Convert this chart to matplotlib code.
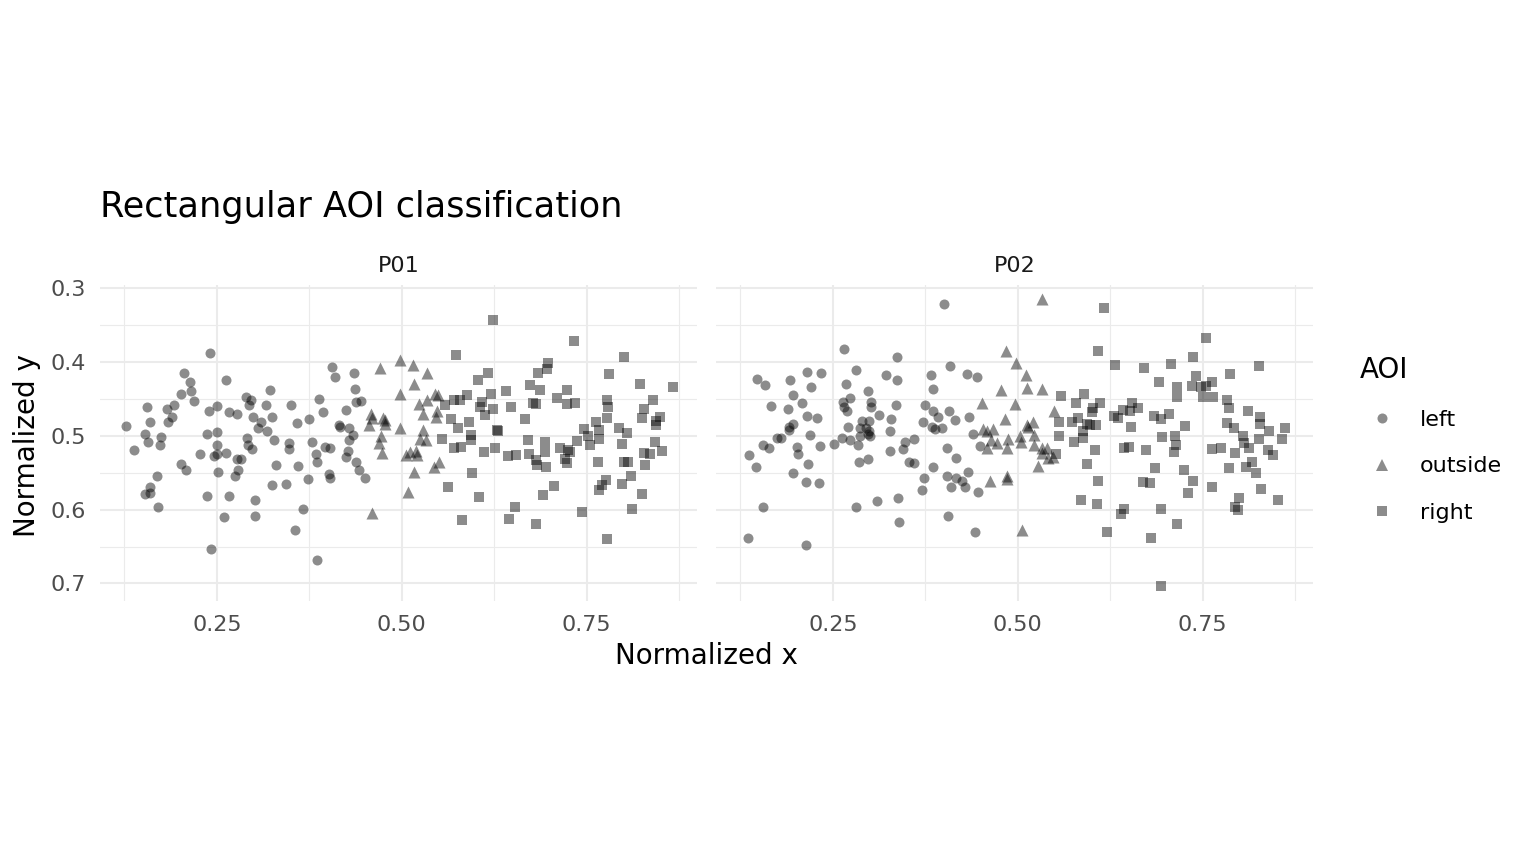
import matplotlib
matplotlib.use("Agg")
import matplotlib.pyplot as plt
from matplotlib.ticker import FixedLocator, FixedFormatter
from matplotlib.lines import Line2D

# ---------------- data (normalized gaze positions per participant / AOI) ----------------
p01_left_x = [0.241, 0.205, 0.214, 0.262, 0.202, 0.215, 0.219, 0.156, 0.182, 0.192, 0.189, 0.184,
              0.159, 0.127, 0.153, 0.157, 0.175, 0.173, 0.138, 0.240, 0.250, 0.267, 0.277, 0.290,
              0.296, 0.294, 0.322, 0.316, 0.324, 0.350, 0.358, 0.299, 0.310, 0.306, 0.318, 0.237,
              0.250, 0.291, 0.292, 0.298, 0.327, 0.347, 0.347, 0.250, 0.250, 0.246, 0.227, 0.262,
              0.277, 0.283, 0.202, 0.208, 0.251, 0.278, 0.274, 0.330, 0.360, 0.169, 0.160, 0.153,
              0.159, 0.171, 0.237, 0.267, 0.302, 0.325, 0.344, 0.259, 0.302, 0.356, 0.242, 0.366,
              0.406, 0.410, 0.435, 0.437, 0.388, 0.438, 0.445, 0.425, 0.393, 0.375, 0.415, 0.416,
              0.428, 0.434, 0.429, 0.378, 0.396, 0.403, 0.384, 0.427, 0.424, 0.385, 0.438, 0.442,
              0.450, 0.401, 0.403, 0.373, 0.386]
p01_left_y = [0.388, 0.415, 0.427, 0.425, 0.443, 0.440, 0.453, 0.461, 0.464, 0.458, 0.475, 0.481,
              0.482, 0.487, 0.497, 0.508, 0.502, 0.512, 0.519, 0.466, 0.460, 0.468, 0.470, 0.447,
              0.451, 0.458, 0.438, 0.458, 0.474, 0.459, 0.483, 0.475, 0.481, 0.489, 0.493, 0.497,
              0.495, 0.503, 0.512, 0.518, 0.506, 0.510, 0.518, 0.512, 0.525, 0.528, 0.525, 0.524,
              0.532, 0.532, 0.538, 0.547, 0.549, 0.547, 0.554, 0.539, 0.541, 0.555, 0.570, 0.579,
              0.578, 0.597, 0.582, 0.582, 0.587, 0.566, 0.565, 0.610, 0.609, 0.627, 0.653, 0.599,
              0.407, 0.421, 0.415, 0.437, 0.450, 0.454, 0.453, 0.465, 0.468, 0.477, 0.485, 0.488,
              0.489, 0.499, 0.506, 0.509, 0.515, 0.516, 0.525, 0.520, 0.529, 0.536, 0.536, 0.546,
              0.557, 0.552, 0.557, 0.558, 0.668]

p01_out_x = [0.497, 0.515, 0.471, 0.534, 0.517, 0.497, 0.545, 0.549, 0.534, 0.523, 0.458, 0.547,
             0.529, 0.546, 0.474, 0.477, 0.460, 0.455, 0.477, 0.497, 0.529, 0.472, 0.524, 0.532,
             0.469, 0.511, 0.519, 0.506, 0.520, 0.473, 0.550, 0.544, 0.517, 0.509, 0.460]
p01_out_y = [0.397, 0.404, 0.408, 0.415, 0.430, 0.443, 0.443, 0.445, 0.452, 0.457, 0.470, 0.467,
             0.470, 0.474, 0.476, 0.479, 0.476, 0.485, 0.484, 0.489, 0.492, 0.500, 0.504, 0.506,
             0.510, 0.522, 0.520, 0.526, 0.526, 0.524, 0.535, 0.542, 0.549, 0.576, 0.605]

p01_right_x = [0.573, 0.617, 0.603, 0.620, 0.588, 0.578, 0.570, 0.558, 0.609, 0.605, 0.623, 0.612,
               0.566, 0.591, 0.576, 0.593, 0.593, 0.628, 0.554, 0.570, 0.580, 0.611, 0.626, 0.595,
               0.563, 0.604, 0.582, 0.623, 0.733, 0.800, 0.698, 0.696, 0.684, 0.780, 0.822, 0.866,
               0.673, 0.687, 0.723, 0.641, 0.710, 0.723, 0.734, 0.681, 0.677, 0.647, 0.777, 0.779,
               0.839, 0.828, 0.777, 0.825, 0.849, 0.844, 0.844, 0.666, 0.763, 0.746, 0.767, 0.793,
               0.805, 0.630, 0.752, 0.766, 0.755, 0.737, 0.671, 0.694, 0.693, 0.798, 0.842, 0.852,
               0.828, 0.836, 0.829, 0.644, 0.654, 0.672, 0.681, 0.683, 0.695, 0.714, 0.725, 0.727,
               0.720, 0.723, 0.765, 0.800, 0.806, 0.810, 0.798, 0.776, 0.770, 0.766, 0.706, 0.691,
               0.825, 0.653, 0.645, 0.681, 0.744, 0.811, 0.777]
p01_right_y = [0.391, 0.415, 0.424, 0.443, 0.445, 0.451, 0.452, 0.458, 0.454, 0.461, 0.464, 0.472,
               0.478, 0.481, 0.489, 0.499, 0.506, 0.492, 0.504, 0.516, 0.515, 0.522, 0.516, 0.551,
               0.569, 0.583, 0.614, 0.343, 0.372, 0.394, 0.401, 0.409, 0.415, 0.417, 0.430, 0.434,
               0.431, 0.438, 0.438, 0.440, 0.449, 0.457, 0.455, 0.457, 0.456, 0.461, 0.452, 0.461,
               0.452, 0.464, 0.476, 0.476, 0.474, 0.480, 0.485, 0.477, 0.482, 0.491, 0.492, 0.490,
               0.496, 0.493, 0.500, 0.505, 0.512, 0.507, 0.506, 0.509, 0.522, 0.511, 0.509, 0.520,
               0.524, 0.525, 0.539, 0.527, 0.526, 0.525, 0.533, 0.540, 0.542, 0.516, 0.519, 0.522,
               0.532, 0.537, 0.535, 0.535, 0.535, 0.554, 0.565, 0.560, 0.567, 0.573, 0.568, 0.580,
               0.579, 0.597, 0.613, 0.619, 0.603, 0.599, 0.640]

p02_left_x = [0.265, 0.337, 0.148, 0.158, 0.192, 0.215, 0.234, 0.220, 0.196, 0.208, 0.166, 0.190,
              0.215, 0.228, 0.196, 0.191, 0.191, 0.180, 0.174, 0.219, 0.155, 0.163, 0.136, 0.146,
              0.201, 0.203, 0.232, 0.217, 0.196, 0.214, 0.231, 0.155, 0.135, 0.214, 0.281, 0.268,
              0.322, 0.337, 0.298, 0.273, 0.263, 0.265, 0.269, 0.302, 0.302, 0.312, 0.335, 0.329,
              0.271, 0.289, 0.299, 0.286, 0.295, 0.299, 0.297, 0.287, 0.300, 0.327, 0.262, 0.273,
              0.251, 0.284, 0.347, 0.345, 0.359, 0.327, 0.285, 0.298, 0.353, 0.359, 0.310, 0.338,
              0.281, 0.340, 0.400, 0.408, 0.382, 0.431, 0.445, 0.385, 0.375, 0.386, 0.392, 0.407,
              0.415, 0.434, 0.372, 0.384, 0.388, 0.397, 0.440, 0.404, 0.416, 0.449, 0.385, 0.373,
              0.404, 0.417, 0.425, 0.433, 0.371, 0.409, 0.429, 0.446, 0.405, 0.442]
p02_left_y = [0.383, 0.393, 0.423, 0.431, 0.425, 0.414, 0.415, 0.434, 0.445, 0.455, 0.460, 0.464,
              0.473, 0.476, 0.484, 0.488, 0.492, 0.503, 0.503, 0.499, 0.513, 0.517, 0.526, 0.542,
              0.515, 0.525, 0.514, 0.538, 0.550, 0.563, 0.564, 0.596, 0.639, 0.648, 0.411, 0.430,
              0.418, 0.425, 0.440, 0.449, 0.454, 0.461, 0.467, 0.454, 0.461, 0.472, 0.458, 0.478,
              0.488, 0.480, 0.480, 0.490, 0.490, 0.494, 0.498, 0.500, 0.501, 0.494, 0.503, 0.506,
              0.511, 0.512, 0.508, 0.518, 0.504, 0.521, 0.536, 0.532, 0.536, 0.537, 0.588, 0.584,
              0.597, 0.617, 0.322, 0.406, 0.418, 0.417, 0.420, 0.437, 0.458, 0.467, 0.475, 0.466,
              0.479, 0.474, 0.481, 0.488, 0.491, 0.489, 0.498, 0.517, 0.530, 0.514, 0.542, 0.557,
              0.554, 0.557, 0.561, 0.549, 0.573, 0.570, 0.569, 0.576, 0.609, 0.630]

p02_out_x = [0.533, 0.484, 0.498, 0.511, 0.512, 0.533, 0.477, 0.451, 0.496, 0.549, 0.482, 0.453,
             0.458, 0.467, 0.513, 0.521, 0.514, 0.503, 0.522, 0.487, 0.464, 0.472, 0.458, 0.485,
             0.504, 0.522, 0.533, 0.539, 0.532, 0.541, 0.547, 0.527, 0.463, 0.485, 0.486, 0.506]
p02_out_y = [0.315, 0.385, 0.402, 0.418, 0.435, 0.437, 0.438, 0.455, 0.457, 0.466, 0.478, 0.491,
             0.494, 0.491, 0.485, 0.482, 0.488, 0.501, 0.499, 0.505, 0.506, 0.510, 0.517, 0.516,
             0.509, 0.512, 0.517, 0.517, 0.523, 0.530, 0.529, 0.541, 0.561, 0.555, 0.558, 0.628]

p02_right_x = [0.616, 0.608, 0.558, 0.589, 0.578, 0.601, 0.611, 0.600, 0.555, 0.573, 0.582, 0.593,
               0.605, 0.588, 0.597, 0.555, 0.588, 0.576, 0.604, 0.552, 0.594, 0.609, 0.586, 0.607,
               0.620, 0.755, 0.632, 0.670, 0.707, 0.737, 0.826, 0.787, 0.691, 0.715, 0.715, 0.741,
               0.735, 0.748, 0.755, 0.762, 0.750, 0.764, 0.783, 0.785, 0.811, 0.827, 0.827, 0.840,
               0.861, 0.857, 0.783, 0.792, 0.805, 0.806, 0.813, 0.826, 0.838, 0.845, 0.793, 0.762,
               0.775, 0.816, 0.808, 0.822, 0.785, 0.829, 0.852, 0.799, 0.793, 0.798, 0.762, 0.730,
               0.737, 0.724, 0.686, 0.669, 0.679, 0.726, 0.695, 0.712, 0.714, 0.711, 0.673, 0.643,
               0.650, 0.704, 0.693, 0.684, 0.653, 0.663, 0.654, 0.651, 0.642, 0.636, 0.630, 0.644,
               0.640, 0.693, 0.715, 0.680, 0.693]
p02_right_y = [0.327, 0.385, 0.446, 0.444, 0.456, 0.462, 0.455, 0.468, 0.481, 0.482, 0.476, 0.484,
               0.485, 0.494, 0.485, 0.500, 0.503, 0.509, 0.519, 0.525, 0.538, 0.561, 0.587, 0.593,
               0.630, 0.368, 0.404, 0.408, 0.403, 0.394, 0.405, 0.417, 0.427, 0.434, 0.447, 0.419,
               0.433, 0.434, 0.433, 0.427, 0.447, 0.448, 0.452, 0.463, 0.466, 0.475, 0.484, 0.494,
               0.489, 0.505, 0.483, 0.489, 0.500, 0.510, 0.517, 0.505, 0.519, 0.526, 0.523, 0.518,
               0.517, 0.535, 0.542, 0.551, 0.543, 0.572, 0.587, 0.584, 0.596, 0.601, 0.570, 0.577,
               0.561, 0.546, 0.544, 0.563, 0.564, 0.487, 0.502, 0.501, 0.512, 0.522, 0.519, 0.516,
               0.515, 0.470, 0.478, 0.473, 0.488, 0.462, 0.456, 0.467, 0.465, 0.476, 0.473, 0.599,
               0.606, 0.599, 0.620, 0.639, 0.704]

panels = ["P01", "P02"]
aoi_levels = ["left", "outside", "right"]
x_ticks = [0.25, 0.50, 0.75]
x_tick_labels = ["0.25", "0.50", "0.75"]
y_ticks = [0.3, 0.4, 0.5, 0.6, 0.7]
y_tick_labels = ["0.3", "0.4", "0.5", "0.6", "0.7"]

data = {
    "P01": {"left": (p01_left_x, p01_left_y), "outside": (p01_out_x, p01_out_y),
            "right": (p01_right_x, p01_right_y)},
    "P02": {"left": (p02_left_x, p02_left_y), "outside": (p02_out_x, p02_out_y),
            "right": (p02_right_x, p02_right_y)},
}
shapes = {"left": ("o", 52), "outside": ("^", 75), "right": ("s", 44)}

# ---------------- figure ----------------
W, H = 1536, 864
fig = plt.figure(figsize=(W / 100, H / 100), dpi=100)

grid_col = "#ebebeb"
text_col = "#4d4d4d"

ax_left = [100, 716]
ax_w = 597
ax_top, ax_bot = 284.6, 601

axes = []
for i, p in enumerate(panels):
    ax = fig.add_axes([ax_left[i] / W, 1 - ax_bot / H, ax_w / W, (ax_bot - ax_top) / H])
    axes.append(ax)
    for aoi in aoi_levels:
        xs, ys = data[p][aoi]
        m, s = shapes[aoi]
        ax.scatter(xs, ys, marker=m, s=s, color="black", alpha=0.45, linewidths=0, zorder=3)
    ax.set_xlim(0.092, 0.899)
    ax.set_ylim(0.7237, 0.2954)
    ax.xaxis.set_major_locator(FixedLocator(x_ticks))
    ax.xaxis.set_major_formatter(FixedFormatter(x_tick_labels))
    ax.xaxis.set_minor_locator(FixedLocator([0.125, 0.375, 0.625, 0.875]))
    ax.yaxis.set_major_locator(FixedLocator(y_ticks))
    ax.yaxis.set_minor_locator(FixedLocator([0.35, 0.45, 0.55, 0.65]))
    if i == 0:
        ax.yaxis.set_major_formatter(FixedFormatter(y_tick_labels))
    else:
        ax.set_yticklabels([])
    ax.grid(True, which="major", color=grid_col, linewidth=1.5, zorder=0)
    ax.grid(True, which="minor", color=grid_col, linewidth=0.8, zorder=0)
    ax.set_axisbelow(True)
    ax.tick_params(which="both", length=0, labelsize=16, labelcolor=text_col)
    ax.tick_params(axis="x", pad=10)
    ax.tick_params(axis="y", pad=10)
    for sp in ax.spines.values():
        sp.set_visible(False)
    ax.set_title(p, fontsize=16, color="#1a1a1a", pad=9)

fig.text(100 / W, 1 - 207 / H, "Rectangular AOI classification", fontsize=25.3,
         ha="left", va="center", color="black")
fig.text(706.5 / W, 1 - 656 / H, "Normalized x", fontsize=20, ha="center", va="center")
fig.text(27 / W, 1 - 446 / H, "Normalized y", fontsize=20, ha="center", va="center",
         rotation=90)

handles = [Line2D([], [], linestyle="none", marker=shapes[a][0],
                  markersize=(shapes[a][1] ** 0.5), markerfacecolor="black",
                  markeredgewidth=0, alpha=0.45) for a in aoi_levels]
fig.legend(handles, aoi_levels, title="AOI", loc="upper left",
           bbox_to_anchor=(1351 / W, 1 - 347 / H), frameon=False, fontsize=16,
           title_fontsize=20, alignment="left", labelspacing=1.18, handletextpad=0.7,
           borderaxespad=0)

fig.savefig("out.png", dpi=100)
